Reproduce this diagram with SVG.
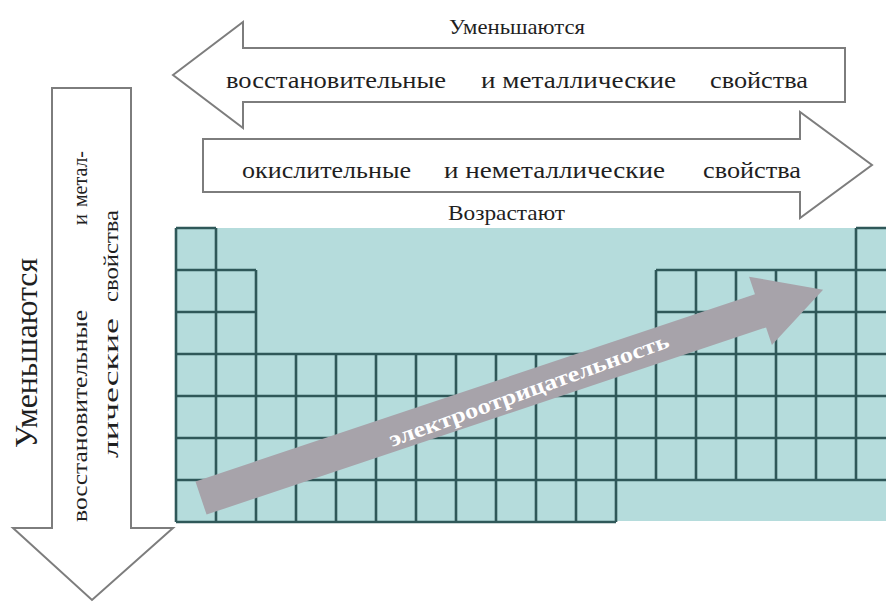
<svg xmlns="http://www.w3.org/2000/svg" width="886" height="602" viewBox="0 0 886 602">
  <style>
    .block { fill: #ffffff; stroke: #7d7d7d; stroke-width: 2; stroke-linejoin: miter; }
    .lbl { font-family: "Liberation Serif", "DejaVu Serif", "Times New Roman", serif; fill: #1f1f1f; }
    .grid { fill: none; stroke: #2f5859; stroke-width: 2.6; }
    .en { font-family: "Liberation Serif", "DejaVu Serif", "Times New Roman", serif; font-weight: bold; fill: #ffffff; }
  </style>
  <rect x="0" y="0" width="886" height="602" fill="#ffffff"/>

  <!-- periodic table outline -->
  <g id="table">
    <rect x="176" y="228" width="710" height="293" fill="#b5dcdc"/>
    <path class="grid" d="
      M176 228H216 M856 228H896
      M176 270H256 M656 270H896
      M176 312H256 M656 312H896
      M176 354H896 M176 396H896 M176 438H896 M176 480H896
      M176 522H616
      M176 228V522 M216 228V522 M256 270V522
      M296 354V522 M336 354V522 M376 354V522 M416 354V522 M456 354V522
      M496 354V522 M536 354V522 M576 354V522 M616 354V522
      M656 270V480 M696 270V480 M736 270V480 M776 270V480 M816 270V480
      M856 228V480"/>
  </g>

  <!-- electronegativity trend -->
  <g id="electronegativity">
    <polygon fill="#a7a3aa" transform="translate(201,498) rotate(-18.5)"
      points="0,-17.5 590,-17.5 590,-36 656,0 590,36 590,17.5 0,17.5"/>
    <text class="en" font-size="22" transform="translate(392,447) rotate(-19.8)"
      textLength="296" lengthAdjust="spacingAndGlyphs">электроотрицательность</text>
  </g>

  <!-- period trend: decreasing reducing/metallic properties -->
  <g id="period-decrease">
    <polygon class="block" points="173,75 243,22 243,48 845,48 845,102 243,102 243,128"/>
    <text class="lbl" x="449" y="34" font-size="22" textLength="136" lengthAdjust="spacingAndGlyphs">Уменьшаются</text>
    <text class="lbl" x="226" y="88" font-size="23" textLength="220" lengthAdjust="spacingAndGlyphs">восстановительные</text>
    <text class="lbl" x="481" y="88" font-size="23" textLength="195" lengthAdjust="spacingAndGlyphs">и металлические</text>
    <text class="lbl" x="710" y="88" font-size="23" textLength="98" lengthAdjust="spacingAndGlyphs">свойства</text>
  </g>

  <!-- period trend: increasing oxidizing/non-metallic properties -->
  <g id="period-increase">
    <polygon class="block" points="203,139 800,139 800,112 872,165 800,218 800,192 203,192"/>
    <text class="lbl" x="242" y="178" font-size="23" textLength="169" lengthAdjust="spacingAndGlyphs">окислительные</text>
    <text class="lbl" x="444" y="178" font-size="23" textLength="221" lengthAdjust="spacingAndGlyphs">и неметаллические</text>
    <text class="lbl" x="703" y="178" font-size="23" textLength="98" lengthAdjust="spacingAndGlyphs">свойства</text>
    <text class="lbl" x="448" y="220" font-size="22" textLength="117" lengthAdjust="spacingAndGlyphs">Возрастают</text>
  </g>

  <!-- group trend: decreasing down the column -->
  <g id="group-decrease">
    <polygon class="block" points="52,88 131,88 131,528 173,528 92,600 13,528 52,528"/>
    <text class="lbl" font-size="32" transform="translate(37,448) rotate(-90)" textLength="190" lengthAdjust="spacingAndGlyphs">Уменьшаются</text>
    <text class="lbl" font-size="21" transform="translate(87,522) rotate(-90)" textLength="212" lengthAdjust="spacingAndGlyphs">восстановительные</text>
    <text class="lbl" font-size="21" transform="translate(87,225) rotate(-90)" textLength="11" lengthAdjust="spacingAndGlyphs">и</text>
    <text class="lbl" font-size="21" transform="translate(87,207) rotate(-90)" textLength="56" lengthAdjust="spacingAndGlyphs">метал-</text>
    <text class="lbl" font-size="21" transform="translate(118,458) rotate(-90)" textLength="140" lengthAdjust="spacingAndGlyphs">лические</text>
    <text class="lbl" font-size="21" transform="translate(118,302) rotate(-90)" textLength="92" lengthAdjust="spacingAndGlyphs">свойства</text>
  </g>
</svg>
